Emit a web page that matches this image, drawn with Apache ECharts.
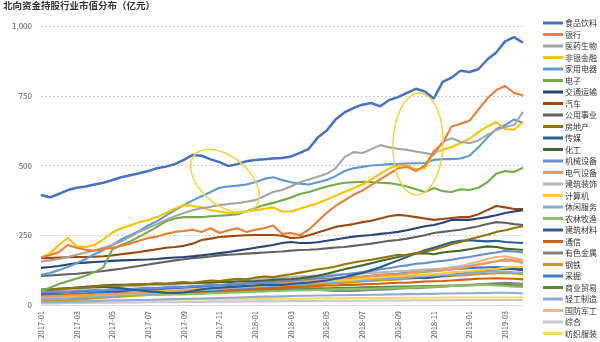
<!DOCTYPE html>
<html><head><meta charset="utf-8">
<script src="https://cdn.jsdelivr.net/npm/echarts@6/dist/echarts.min.js"></script>
<style>html,body{margin:0;padding:0;background:#fff}#c{width:600px;height:342px}</style>
</head><body><div id="c"></div>
<script>
const categories = [
'2017-01-01','2017-01-16','2017-02-01','2017-02-16','2017-03-01','2017-03-16','2017-04-01','2017-04-16','2017-05-01','2017-05-16','2017-06-01','2017-06-16',
'2017-07-01','2017-07-16','2017-08-01','2017-08-16','2017-09-01','2017-09-16','2017-10-01','2017-10-16','2017-11-01','2017-11-16','2017-12-01','2017-12-16',
'2018-01-01','2018-01-16','2018-02-01','2018-02-16','2018-03-01','2018-03-16','2018-04-01','2018-04-16','2018-05-01','2018-05-16','2018-06-01','2018-06-16',
'2018-07-01','2018-07-16','2018-08-01','2018-08-16','2018-09-01','2018-09-16','2018-10-01','2018-10-16','2018-11-01','2018-11-16','2018-12-01','2018-12-16',
'2019-01-01','2019-01-16','2019-02-01','2019-02-16','2019-03-01','2019-03-16','2019-04-01'];

const yTicks = [0, 250, 500, 750, 1000];

const seriesNames = ['食品饮料','银行','医药生物','非银金融','家用电器','电子','交通运输','汽车','公用事业','房地产','传媒','化工','机械设备','电气设备','建筑装饰','计算机','休闲服务','农林牧渔','建筑材料','通信','有色金属','钢铁','采掘','商业贸易','轻工制造','国防军工','综合','纺织服装'];

const seriesColors = ['#4472C4','#ED7D31','#A5A5A5','#FFC000','#5B9BD5','#70AD47','#264478','#9E480E','#636363','#997300','#255E91','#43682B','#698ED0','#F1975A','#B7B7B7','#FFCD33','#7CAFDD','#8CC168','#335AA1','#D26012','#848484','#CC9A00','#3C7DC4','#5A8A39','#8FAADC','#F4B183','#C9C9C9','#FFD966'];

const food = [394,386,398,412,420,425,432,438,448,458,465,472,480,490,496,505,520,538,535,522,512,498,505,515,520,522,525,527,532,545,560,600,625,665,690,706,718,724,712,735,745,760,775,765,740,800,815,840,835,845,880,905,945,960,940];
const bank = [170,178,190,215,205,198,195,200,205,212,220,230,240,245,255,262,265,270,262,275,258,268,275,262,270,275,285,255,258,250,270,300,330,355,375,395,410,430,450,470,490,495,480,500,550,580,640,650,660,700,740,770,785,760,752];
const pharma = [155,160,165,172,180,188,195,205,215,228,245,262,276,290,305,318,330,340,347,352,358,362,365,370,376,390,405,412,425,440,450,460,470,490,530,548,545,558,573,565,560,556,550,545,538,585,598,585,580,590,610,627,638,645,692];
const nonbank = [170,185,215,240,210,208,215,235,260,275,285,297,305,315,330,345,358,355,350,340,335,330,333,335,340,345,350,335,335,345,355,365,378,392,405,418,432,450,470,490,500,500,485,490,545,556,566,580,595,620,640,656,630,628,656];
const appliance = [108,115,125,136,150,165,182,197,215,235,250,265,285,300,320,340,358,375,390,405,420,425,428,432,440,452,458,448,440,435,432,440,448,462,480,490,495,500,502,505,505,507,508,509,520,523,523,525,535,565,600,630,645,665,652];
const electronics = [50,62,75,85,95,105,118,135,200,215,228,245,262,280,300,310,315,315,315,318,320,322,325,335,348,358,366,375,385,398,405,415,425,432,438,440,442,441,438,437,432,425,415,405,419,408,405,415,412,420,440,470,480,477,492];
const transport = [133,136,140,145,150,152,154,156,158,160,161,162,163,165,168,170,172,175,178,182,186,190,195,200,205,210,215,222,226,222,222,225,230,235,240,245,248,251,255,258,262,268,275,282,287,295,305,305,305,310,315,322,330,335,340];
const auto = [168,168,170,171,172,172,173,175,178,182,186,190,195,200,205,208,212,220,233,238,244,246,248,250,251,251,251,248,240,242,250,260,270,280,285,290,297,302,310,318,323,320,315,310,305,308,312,315,315,325,340,355,350,344,344];
const utility = [104,106,108,110,112,115,118,122,126,130,135,140,145,150,155,160,164,168,170,174,178,180,182,184,186,188,190,192,195,197,198,200,203,206,208,212,216,220,225,230,233,238,244,250,258,262,266,270,276,282,290,297,295,290,287];
const realestate = [55,57,56,60,63,62,66,70,68,70,73,72,75,78,76,80,82,80,84,88,86,90,94,92,98,102,100,106,110,116,122,128,132,138,146,152,158,162,168,174,180,178,186,192,198,208,218,226,236,244,252,262,268,276,282];
const media = [54,56,58,60,62,64,65,65,63,60,55,52,49,47,44,43,45,50,56,60,62,64,66,68,70,72,72,72,75,78,80,84,88,94,100,108,115,125,135,148,160,172,185,196,205,215,225,230,232,230,228,230,226,224,222];
const chemical = [54,56,58,60,62,65,68,70,72,72,73,74,75,76,76,77,78,78,80,80,82,82,84,85,86,88,90,92,93,96,100,105,112,120,128,135,142,150,158,165,172,180,185,186,182,188,192,195,200,205,210,208,202,200,197];
const machinery = [45,46,48,47,50,52,54,53,56,58,57,60,62,61,64,66,65,68,70,72,71,74,76,78,80,82,85,84,88,92,95,98,102,106,110,114,118,122,128,132,138,142,148,150,155,158,162,168,172,178,184,188,194,192,188];
const electrical = [30,31,32,34,35,34,37,38,40,41,43,44,45,47,48,50,53,54,56,59,61,63,66,69,70,74,76,79,80,84,86,89,91,94,97,99,101,104,107,109,111,114,117,119,121,124,127,131,137,144,151,157,164,160,155];
const construction = [48,50,53,55,57,60,61,63,65,66,67,69,71,72,73,75,78,79,81,83,85,88,89,91,93,95,97,100,101,103,104,106,107,109,111,112,113,115,117,119,121,123,125,127,129,131,134,137,141,146,151,156,159,157,150];
const computer = [28,29,31,31,33,35,35,37,38,40,41,43,45,47,49,51,53,55,57,59,61,63,65,67,69,71,73,75,77,79,81,83,85,87,89,91,94,97,99,101,103,105,107,109,111,114,117,119,121,124,127,129,134,137,136];
const leisure = [20,21,23,24,26,27,29,31,33,35,37,39,41,43,45,47,49,51,53,55,57,59,61,63,65,67,69,71,73,75,77,79,81,83,85,87,89,91,93,95,97,99,101,103,105,107,109,111,114,117,119,121,120,117,115];
const agriculture = [25,26,27,28,30,30,31,32,33,34,35,35,36,36,37,38,38,40,40,42,42,44,45,46,48,48,50,50,52,52,53,54,55,56,56,57,58,58,60,60,62,62,64,65,66,66,68,70,70,72,72,70,68,66,65];
const buildmat = [40,42,44,46,48,50,52,50,48,46,44,42,40,40,42,44,46,48,50,52,55,58,60,62,65,68,70,72,75,78,80,82,84,86,88,90,92,95,98,100,102,100,98,96,100,104,108,112,116,120,124,128,130,128,125];
const telecom = [32,33,34,35,36,36,37,38,38,39,40,40,41,42,42,43,44,45,46,47,48,50,52,54,56,58,60,62,64,65,66,68,70,70,72,72,74,75,76,78,80,80,82,84,85,86,88,90,92,94,95,96,95,94,92];
const metals = [22,23,24,25,26,28,30,32,34,36,38,40,40,42,44,46,48,50,52,54,55,56,58,60,60,62,62,60,58,56,55,54,52,50,50,50,52,54,55,56,58,60,60,62,64,66,68,70,72,74,76,78,80,78,76];
const steel = [15,16,17,18,20,22,24,26,28,30,32,34,36,38,40,42,44,46,48,50,52,54,56,58,60,62,64,66,68,70,72,74,76,78,80,82,84,86,88,90,92,94,96,98,100,102,104,106,108,110,112,114,115,113,110];
const mining = [35,36,37,38,40,42,44,46,48,50,52,54,55,56,58,60,62,64,66,68,70,72,74,76,78,80,82,84,86,88,90,92,94,96,98,100,102,105,108,110,112,115,118,120,122,125,128,130,132,134,135,136,134,132,130];
const commerce = [30,30,31,32,32,33,34,35,36,37,38,39,40,41,42,43,44,45,46,47,48,50,50,52,52,54,55,56,57,58,59,60,60,61,62,62,63,64,64,65,66,66,67,68,68,69,70,70,71,72,72,73,72,71,70];
const lightmfg = [10,10,11,12,12,13,14,15,16,16,17,18,18,19,20,21,22,22,23,24,25,26,27,28,29,30,30,31,32,33,33,34,34,35,35,36,36,37,37,38,38,39,39,40,40,41,41,42,42,43,43,44,44,43,42];
const defense = [30,31,32,33,34,35,36,38,40,42,44,45,46,48,50,52,54,56,58,60,62,64,66,68,70,72,74,76,78,80,82,85,88,90,92,95,98,100,102,105,108,112,116,120,125,130,135,140,148,155,165,172,175,168,162];
const conglomerate = [6,6,6,7,7,7,8,8,8,9,9,9,10,10,10,10,11,11,11,12,12,12,12,13,13,13,13,14,14,14,14,14,15,15,15,15,15,16,16,16,16,16,17,17,17,17,17,18,18,18,18,18,18,18,18];
const textile = [15,15,15,16,16,16,17,17,17,18,18,18,18,19,19,19,20,20,20,20,21,21,21,22,22,22,22,23,23,23,23,24,24,24,24,25,25,25,25,25,26,26,26,26,26,26,27,27,27,27,27,27,27,27,27];

const seriesData = [food,bank,pharma,nonbank,appliance,electronics,transport,auto,utility,realestate,media,chemical,machinery,electrical,construction,computer,leisure,agriculture,buildmat,telecom,metals,steel,mining,commerce,lightmfg,defense,conglomerate,textile];

function ellipsePoints(cx, cy, a, b, deg) {
  const t = deg * Math.PI / 180, pts = [];
  for (let k = 0; k < 72; k++) {
    const u = k / 72 * Math.PI * 2;
    const x = a * Math.cos(u), y = b * Math.sin(u);
    pts.push([cx + x * Math.cos(t) - y * Math.sin(t), cy + x * Math.sin(t) + y * Math.cos(t)]);
  }
  return pts;
}

const FONT = '"Noto Sans CJK SC", "Noto Sans", sans-serif';
const chart = echarts.init(document.getElementById('c'), null, {renderer: 'canvas'});
const series = seriesNames.map((n, i) => ({
  name: n, type: 'line', data: seriesData[i],
  showSymbol: false, symbol: 'none', smooth: false,
  lineStyle: {width: i === 0 ? 2.5 : 2.1, color: seriesColors[i]},
  itemStyle: {color: seriesColors[i]},
  z: 30 - i, animation: false
}));

chart.setOption({
  animation: false,
  color: seriesColors,
  title: {text: '北向资金持股行业市值分布（亿元）', left: 3, top: 1, padding: 0,
    textStyle: {fontFamily: FONT, fontSize: 9.5, fontWeight: 'bold', color: '#333'}},
  grid: {left: 41, right: 77, top: 26, bottom: 37, containLabel: false},
  legend: {orient: 'vertical', left: 543, top: 18, padding: 0, icon: 'rect', itemWidth: 20, itemHeight: 3,
    itemGap: 1.5, textStyle: {fontFamily: FONT, fontSize: 8, color: '#333', lineHeight: 10, padding: [0,0,0,-3]},
    data: seriesNames},
  xAxis: {type: 'category', data: categories, boundaryGap: false,
    axisLine: {show: true, lineStyle: {color: '#D9D9D9'}}, axisTick: {show: false},
    axisLabel: {rotate: 90, fontFamily: FONT, fontSize: 7.5, color: '#595959', margin: 6,
      interval: (idx, v) => v.slice(8) === '01' && (parseInt(v.slice(5,7)) % 2 === 1),
      formatter: v => v.slice(0, 7)},
    splitLine: {show: false}},
  yAxis: {type: 'value', min: yTicks[0], max: yTicks[yTicks.length-1], interval: 250,
    axisLine: {show: false}, axisTick: {show: false},
    axisLabel: {fontFamily: FONT, fontSize: 8, color: '#595959', margin: 9,
      formatter: v => v.toLocaleString('en-US')},
    splitLine: {show: true, lineStyle: {color: '#BFBFBF', type: [2, 2], width: 0.8}}},
  series: series,
  graphic: [
    {type: 'polygon', shape: {points: ellipsePoints(225, 181, 40, 24, 40)}, style: {fill: 'none', stroke: '#F2D33B', lineWidth: 1.5}, z: 100},
    {type: 'polygon', shape: {points: ellipsePoints(418, 144, 51, 25, 92)}, style: {fill: 'none', stroke: '#F2D33B', lineWidth: 1.5}, z: 100}
  ]
});
</script></body></html>
